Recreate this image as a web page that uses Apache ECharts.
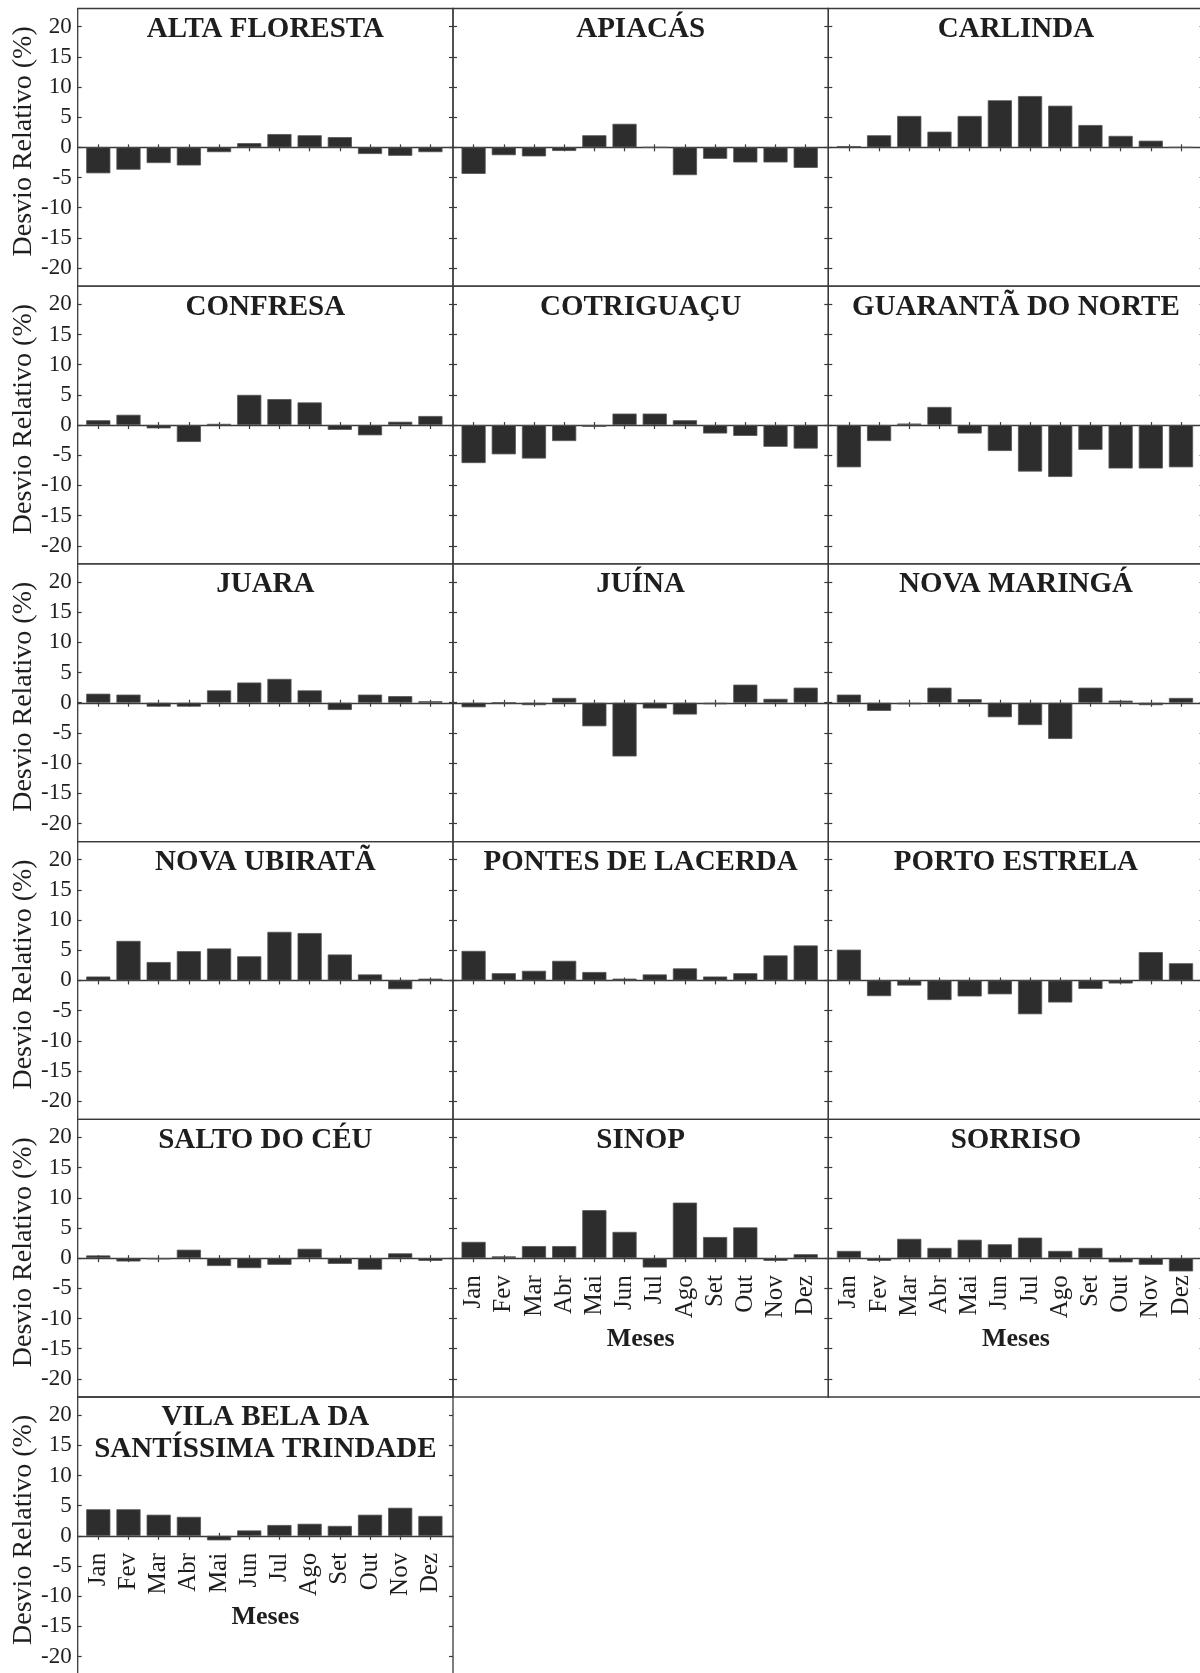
<!DOCTYPE html>
<html>
<head>
<meta charset="utf-8">
<script src="https://cdn.jsdelivr.net/npm/echarts@6/dist/echarts.min.js"></script>
<style>
html,body{margin:0;padding:0;background:#ffffff;}
#chart{width:1200px;height:1673px;}
</style>
</head>
<body>
<div id="chart"></div>
<script>
// ---------------- DATA ----------------
const months = ['Jan','Fev','Mar','Abr','Mai','Jun','Jul','Ago','Set','Out','Nov','Dez'];
const yTickValues = [-20,-15,-10,-5,0,5,10,15,20];
const stationNames = [
  'ALTA FLORESTA','APIACÁS','CARLINDA',
  'CONFRESA','COTRIGUAÇU','GUARANTÃ DO NORTE',
  'JUARA','JUÍNA','NOVA MARINGÁ',
  'NOVA UBIRATÃ','PONTES DE LACERDA','PORTO ESTRELA',
  'SALTO DO CÉU','SINOP','SORRISO',
  'VILA BELA DA\nSANTÍSSIMA TRINDADE'
];
const altaFloresta     = [-4.3, -3.7, -2.6, -3.0, -0.8, 0.7, 2.2, 2.0, 1.7, -1.1, -1.4, -0.8];
const apiacas          = [-4.4, -1.3, -1.5, -0.6, 2.0, 3.9, 0, -4.6, -1.9, -2.5, -2.5, -3.4];
const carlinda         = [0.2, 2.0, 5.2, 2.6, 5.2, 7.8, 8.5, 6.9, 3.7, 1.9, 1.1, 0];
const confresa         = [0.8, 1.7, -0.55, -2.8, 0.2, 5.0, 4.3, 3.75, -0.8, -1.7, 0.55, 1.5];
const cotriguacu       = [-6.3, -4.85, -5.55, -2.65, -0.3, 1.9, 1.9, 0.8, -1.4, -1.8, -3.6, -3.9];
const guarantaDoNorte  = [-7.0, -2.65, 0.25, 3.0, -1.4, -4.3, -7.7, -8.6, -4.1, -7.2, -7.2, -7.0];
const juara            = [1.5, 1.35, -0.65, -0.65, 2.05, 3.35, 3.95, 2.05, -1.2, 1.35, 1.1, 0.25];
const juina            = [-0.75, 0, -0.4, 0.8, -3.9, -8.9, -0.95, -1.95, -0.25, 3.0, 0.65, 2.5];
const novaMaringa      = [1.35, -1.35, -0.25, 2.5, 0.6, -2.4, -3.7, -6.0, 2.5, 0.35, -0.4, 0.8];
const novaUbirata      = [0.65, 6.55, 3.05, 4.85, 5.3, 4.0, 8.05, 7.85, 4.3, 1.0, -1.45, 0.3];
const pontesDeLacerda  = [4.9, 1.2, 1.6, 3.25, 1.4, 0.3, 1.0, 2.0, 0.65, 1.2, 4.15, 5.8];
const portoEstrela     = [5.1, -2.6, -0.85, -3.25, -2.65, -2.3, -5.6, -3.65, -1.4, -0.5, 4.7, 2.85];
const saltoDoCeu       = [0.45, -0.55, -0.2, 1.4, -1.3, -1.65, -1.1, 1.55, -0.95, -1.9, 0.8, -0.45];
const sinop            = [2.7, 0.3, 2.0, 2.0, 7.95, 4.35, -1.55, 9.2, 3.5, 5.1, -0.45, 0.65];
const sorriso          = [1.2, -0.45, 3.2, 1.7, 3.05, 2.3, 3.4, 1.2, 1.7, -0.7, -1.1, -2.2];
const vilaBela         = [4.4, 4.4, 3.5, 3.15, -0.75, 0.9, 1.8, 2.0, 1.65, 3.5, 4.65, 3.3];
const stationValues = [
  altaFloresta, apiacas, carlinda,
  confresa, cotriguacu, guarantaDoNorte,
  juara, juina, novaMaringa,
  novaUbirata, pontesDeLacerda, portoEstrela,
  saltoDoCeu, sinop, sorriso,
  vilaBela
];
const panelsWithMonthLabels = [13, 14, 15];
const yTitle = 'Desvio Relativo (%)';
const xTitle = 'Meses';

// ---------------- LAYOUT / STYLE ----------------
const SERIF = "'Liberation Serif','Times New Roman',serif";
const LINE = '#3a3a3a';
const TXT = '#1e1e1e';
const BAR = '#2d2d2d';
const COL_LEFT0 = 77.7, COL_W = 375.3;
const ROW_TOP0 = 8.5, ROW_H = 277.7;
const INSET_L = 5.5, INSET_R = 7.5;
const Y_MIN = -23, Y_MAX = 23;
const ZERO_OFFSET = ROW_H * Y_MAX / (Y_MAX - Y_MIN);   // distance from frame top to the 0 line

// the zero-line axis is measured in month slots so its ticks sit at the bar centres
const SLOT = (COL_W - INSET_L - INSET_R) / months.length;
const X_MIN = -INSET_L / SLOT, X_MAX = months.length + INSET_R / SLOT;
const monthCentres = months.map(function (m, k) { return k + 0.5; });

const grids = [], xAxes = [], yAxes = [], series = [], titles = [];

function plainGrid(left, top, width, height, extra) {
  const g = {left: left, top: top, width: width, height: height,
             outerBoundsMode: 'none', containLabel: false};
  return Object.assign(g, extra || {});
}
function hiddenAxis(gridIndex, type, extra) {
  return Object.assign({gridIndex: gridIndex, type: type, show: false,
                        axisLine: {show: false, onZero: false}, splitLine: {show: false}}, extra || {});
}

stationValues.forEach(function (vals, i) {
  const r = Math.floor(i / 3), c = i % 3;
  const L = COL_LEFT0 + c * COL_W;
  const T = ROW_TOP0 + r * ROW_H;
  const showMonths = panelsWithMonthLabels.indexOf(i) >= 0;

  // 1) frame grid: border + y ticks/labels
  const og = grids.length;
  grids.push(plainGrid(L, T, COL_W, ROW_H, {show: true, borderColor: LINE, borderWidth: 1.3,
                                             backgroundColor: 'rgba(0,0,0,0)'}));
  yAxes.push({
    gridIndex: og, type: 'value', min: Y_MIN, max: Y_MAX, position: 'left',
    axisLine: {show: false, onZero: false},
    axisTick: {show: true, inside: true, length: 4, customValues: yTickValues,
               lineStyle: {color: LINE, width: 1.2}},
    axisLabel: {show: c === 0, customValues: yTickValues, margin: 6, color: TXT,
                fontFamily: SERIF, fontSize: 23},
    splitLine: {show: false},
    name: c === 0 ? yTitle : '', nameLocation: 'middle', nameGap: 40,
    nameTextStyle: {color: TXT, fontFamily: SERIF, fontSize: 28, padding: [0, 0, 0, 12]}
  });
  yAxes.push({
    gridIndex: og, type: 'value', min: Y_MIN, max: Y_MAX, position: 'right',
    axisLine: {show: false, onZero: false},
    axisTick: {show: true, inside: true, length: 4, customValues: yTickValues,
               lineStyle: {color: LINE, width: 1.2}},
    axisLabel: {show: false}, splitLine: {show: false}
  });
  xAxes.push(hiddenAxis(og, 'value', {min: 0, max: 1}));

  // 2) upper grid: its bottom edge is the 0 line (line, upward ticks, month labels)
  const ug = grids.length;
  grids.push(plainGrid(L, T, COL_W, ZERO_OFFSET));
  yAxes.push(hiddenAxis(ug, 'value', {min: 0, max: Y_MAX}));
  xAxes.push({
    gridIndex: ug, type: 'value', min: X_MIN, max: X_MAX, position: 'bottom',
    axisLine: {show: true, onZero: false, lineStyle: {color: LINE, width: 1.3}},
    axisTick: {show: true, inside: true, length: 3, customValues: monthCentres,
               lineStyle: {color: LINE, width: 1.2}},
    axisLabel: {show: showMonths, customValues: monthCentres, rotate: 90, margin: 17, color: TXT,
                fontFamily: SERIF, fontSize: 25,
                formatter: function (v) { return months[Math.round(v - 0.5)] || ''; }},
    splitLine: {show: false},
    name: showMonths ? xTitle : '', nameLocation: 'middle', nameGap: 68,
    nameTextStyle: {color: TXT, fontFamily: SERIF, fontSize: 26, fontWeight: 'bold'}
  });

  // 3) lower grid: its top edge is the 0 line (downward ticks)
  const lg = grids.length;
  grids.push(plainGrid(L, T + ZERO_OFFSET, COL_W, ROW_H - ZERO_OFFSET));
  yAxes.push(hiddenAxis(lg, 'value', {min: Y_MIN, max: 0}));
  xAxes.push({
    gridIndex: lg, type: 'value', min: X_MIN, max: X_MAX, position: 'top',
    axisLine: {show: false, onZero: false},
    axisTick: {show: true, inside: true, length: 4, customValues: monthCentres,
               lineStyle: {color: LINE, width: 1.2}},
    axisLabel: {show: false}, splitLine: {show: false}
  });

  // 4) bar grid (inset so the bars sit between the frame sides like the original)
  const bg = grids.length;
  grids.push(plainGrid(L + INSET_L, T, COL_W - INSET_L - INSET_R, ROW_H));
  const iy = yAxes.length;
  yAxes.push(hiddenAxis(bg, 'value', {min: Y_MIN, max: Y_MAX}));
  const ix = xAxes.length;
  xAxes.push(hiddenAxis(bg, 'category', {data: months}));

  series.push({
    type: 'bar', xAxisIndex: ix, yAxisIndex: iy, data: vals, barWidth: '80%',
    silent: true,
    itemStyle: {color: BAR, borderColor: '#555555', borderWidth: 0.8}
  });

  titles.push({
    text: stationNames[i], left: L + COL_W / 2, top: T + 5, padding: 0,
    textAlign: 'center',
    textStyle: {color: TXT, fontFamily: SERIF, fontSize: 29, fontWeight: 'bold', lineHeight: 32}
  });
});

const chart = echarts.init(document.getElementById('chart'), null, {renderer: 'canvas'});
chart.setOption({
  backgroundColor: '#ffffff',
  animation: false,
  title: titles,
  grid: grids,
  xAxis: xAxes,
  yAxis: yAxes,
  series: series
});
</script>
</body>
</html>
